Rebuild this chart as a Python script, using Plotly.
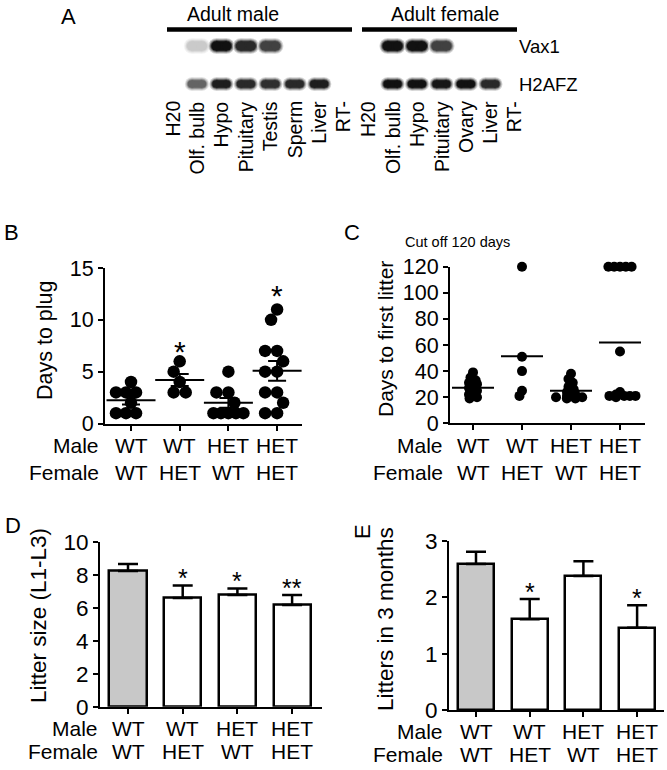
import plotly.graph_objects as go
import numpy as np

W, H = 667, 770
FONT = "Arial, 'Liberation Sans', sans-serif"

# ---------------- Panel A: RT-PCR gel (band intensities 0..1) ----------------
male_lanes = ["H20", "Olf. bulb", "Hypo", "Pituitary", "Testis", "Sperm", "Liver", "RT-"]
female_lanes = ["H20", "Olf. bulb", "Hypo", "Pituitary", "Ovary", "Liver", "RT-"]
gel_genes = ["Vax1", "H2AFZ"]
male_vax1 = [0.0, 0.22, 1.0, 0.9, 0.8, 0.0, 0.0, 0.0]
male_h2afz = [0.0, 0.65, 0.95, 0.9, 0.88, 0.9, 0.95, 0.0]
female_vax1 = [0.0, 1.0, 1.0, 0.8, 0.0, 0.0, 0.0]
female_h2afz = [0.0, 1.0, 1.0, 0.98, 1.0, 0.9, 0.0]
sex_headers = ["Adult male", "Adult female"]

# ---------------- genotype labels ----------------
row_names = ["Male", "Female"]
male_geno = ["WT", "WT", "HET", "HET"]
female_geno = ["WT", "HET", "WT", "HET"]

# ---------------- Panel B: days to plug ----------------
plug_wt_wt = [4, 3, 3, 3, 2, 1, 1, 1]
plug_wt_het = [6, 5, 4, 3, 3]
plug_het_wt = [5, 3, 3, 2, 1, 1, 1, 1, 1]
plug_het_het = [11, 10, 7, 7, 6, 5, 5, 3, 3, 2, 1, 1]
plug_stars = ["", "*", "", "*"]
plug_star_y = [None, 7.6, None, 13.0]

# ---------------- Panel C: days to first litter ----------------
litter_wt_wt = [39, 35, 33, 31, 30, 28, 27, 25, 24, 22, 21, 20, 19]
litter_wt_het = [120, 51, 40, 25, 21]
litter_het_wt = [38, 34, 31, 28, 26, 24, 23, 22, 21, 20, 20, 19, 19]
litter_het_het = [120, 120, 120, 120, 120, 55, 24, 22, 21, 21, 21, 20, 21]
first_stars = ["", "", "", "*"]
first_star_y = [None, None, None, 136]

# ---------------- Panel D: litter size ----------------
size_mean = [8.22, 6.59, 6.77, 6.16]
size_sem = [0.43, 0.76, 0.40, 0.61]
size_stars = ["", "*", "*", "**"]

# ---------------- Panel E: litters in 3 months ----------------
lit3_mean = [2.59, 1.61, 2.38, 1.46]
lit3_sem = [0.22, 0.36, 0.26, 0.40]
lit3_stars = ["", "*", "", "*"]


def fx(px):
    return px / W


def fy(py):
    return 1 - py / H


def swarm(values, ppu, d, rowhalf, colhalf):
    """beeswarm offsets in px"""
    order = sorted(range(len(values)), key=lambda i: -values[i])
    placed = []
    offs = [0.0] * len(values)
    for i in order:
        y = values[i] * ppu
        iv = []
        for (py, px) in placed:
            dy = abs(py - y)
            if dy < d:
                hw = (d * d - dy * dy) ** 0.5
                iv.append((px - hw, px + hw))
        cands = [0.0] + [a for a, b in iv] + [b for a, b in iv]
        cands.sort(key=lambda c: (round(abs(c), 6), c))
        for c in cands:
            if all(not (a + 1e-6 < c < b - 1e-6) for a, b in iv):
                offs[i] = c
                break
        placed.append((y, offs[i]))
    for v in set(values):
        idx = [i for i in range(len(values)) if values[i] == v]
        lim = rowhalf if len(idx) > 1 else colhalf
        m = max(abs(offs[i]) for i in idx)
        if m > lim:
            for i in idx:
                offs[i] *= lim / m
    return offs


fig = go.Figure()
layout_axes = {}
annotations = []
shapes = []

# ======================= Panel A =======================
lane_px0, lane_step = 172.5, 24.45
gx0, gx1 = 150, 535
gy0, gy1 = 30, 100
row_px0, row_step = 46, 38
layout_axes["xaxis"] = dict(domain=[fx(gx0), fx(gx1)],
                            range=[(gx0 - lane_px0) / lane_step, (gx1 - lane_px0) / lane_step],
                            visible=False, anchor="y", automargin=False)
layout_axes["yaxis"] = dict(domain=[fy(gy1), fy(gy0)],
                            range=[(gy1 - row_px0) / row_step, (gy0 - row_px0) / row_step],
                            visible=False, anchor="x", automargin=False)

gel_rows = [(male_vax1, female_vax1, 10.5), (male_h2afz, female_h2afz, 8.5)]
for r, (mrow, frow, bw) in enumerate(gel_rows):
    inten = list(mrow) + list(frow)
    for k, I in enumerate(inten):
        if I <= 0:
            continue
        layers = [(bw + 5, 0.18), (bw + 3, 0.4), (bw + 1, 0.7), (bw - 1, 0.93)]
        for lw, f in layers:
            lvl = int(255 * (1 - f * I))
            c = f"rgb({lvl},{lvl},{lvl})"
            fig.add_trace(go.Scatter(x=[k - 0.22, k + 0.22], y=[r, r], xaxis="x", yaxis="y",
                                     mode="lines+markers", line=dict(color=c, width=lw),
                                     marker=dict(color=c, size=lw, line=dict(width=0)),
                                     hoverinfo="skip", showlegend=False))

all_lanes = male_lanes + female_lanes
for k, name in enumerate(all_lanes):
    annotations.append(dict(x=k, y=fy(99), xref="x", yref="paper", text=name, textangle=-90,
                            xanchor="center", yanchor="top", showarrow=False,
                            font=dict(size=19.5, color="black", family=FONT)))
for r, g in enumerate(gel_genes):
    annotations.append(dict(x=fx(517), y=fy(row_px0 + r * row_step + 1), xref="paper", yref="paper",
                            text=g, xanchor="left", yanchor="middle", showarrow=False,
                            font=dict(size=18.5, color="black", family=FONT)))
for txt, cx in zip(sex_headers, [233, 445]):
    annotations.append(dict(x=fx(cx), y=fy(14), xref="paper", yref="paper", text=txt,
                            xanchor="center", yanchor="middle", showarrow=False,
                            font=dict(size=19.5, color="black", family=FONT)))
for xa, xb in [(167, 352), (362, 517)]:
    shapes.append(dict(type="line", xref="paper", yref="paper", x0=fx(xa), x1=fx(xb),
                       y0=fy(29.5), y1=fy(29.5), line=dict(color="black", width=4.5)))


# ======================= helpers =======================
def cat_axes(n, ax_left, ax_right, cat0, step, ytop, ybot, yrange, yticks, tickfont):
    xa = dict(domain=[fx(ax_left), fx(ax_right)],
              range=[(ax_left - cat0) / step, (ax_right - cat0) / step],
              showline=True, linecolor="black", linewidth=2, ticks="outside", ticklen=5,
              tickwidth=2, tickcolor="black", tickvals=[0, 1, 2, 3], showticklabels=False,
              showgrid=False, zeroline=False, anchor=f"y{n}", automargin=False)
    ya = dict(domain=[fy(ybot), fy(ytop)], range=yrange, showline=True, linecolor="black",
              linewidth=2, ticks="outside", ticklen=5, tickwidth=2, tickcolor="black",
              tickvals=yticks, tickfont=dict(size=tickfont, color="black", family=FONT),
              showgrid=False, zeroline=False, anchor=f"x{n}", automargin=False)
    layout_axes[f"xaxis{n}"] = xa
    layout_axes[f"yaxis{n}"] = ya


def geno_labels(n, row_y, right_px, fsize):
    for r, (rn, labs) in enumerate(zip(row_names, [male_geno, female_geno])):
        annotations.append(dict(x=fx(right_px), y=fy(row_y[r]), xref="paper", yref="paper",
                                text=rn, xanchor="right", yanchor="middle", showarrow=False,
                                font=dict(size=fsize, color="black", family=FONT)))
        for i, lab in enumerate(labs):
            annotations.append(dict(x=i, y=fy(row_y[r]), xref=f"x{n}", yref="paper", text=lab,
                                    xanchor="center", yanchor="middle", showarrow=False,
                                    font=dict(size=fsize, color="black", family=FONT)))


def ytitle(text, cx, cy, fsize):
    annotations.append(dict(x=fx(cx), y=fy(cy), xref="paper", yref="paper", text=text,
                            textangle=-90, xanchor="center", yanchor="middle", showarrow=False,
                            font=dict(size=fsize, color="black", family=FONT)))


def panel_letter(t, cx, cy, angle=0):
    annotations.append(dict(x=fx(cx), y=fy(cy), xref="paper", yref="paper", text=t,
                            textangle=angle, xanchor="center", yanchor="middle", showarrow=False,
                            font=dict(size=22, color="black", family=FONT)))


# ======================= Panel B =======================
B_left, B_right, B_c0, B_step, B_top, B_bot = 105, 302, 131, 48.7, 268, 423.5
cat_axes(2, B_left, B_right, B_c0, B_step, B_top, B_bot, [0, 15], [0, 5, 10, 15], 21.5)
ppu_B = (B_bot - B_top) / 15
plug_groups = [plug_wt_wt, plug_wt_het, plug_het_wt, plug_het_het]
for gi, vals in enumerate(plug_groups):
    offs = swarm(vals, ppu_B, 12.0, 15.0, 15.0)
    fig.add_trace(go.Scatter(x=[gi + o / B_step for o in offs], y=vals, xaxis="x2", yaxis="y2",
                             mode="markers", marker=dict(color="black", size=12.5),
                             cliponaxis=False, hoverinfo="skip", showlegend=False))
means_B = [float(np.mean(v)) for v in plug_groups]
sems_B = [float(np.std(v, ddof=1) / np.sqrt(len(v))) for v in plug_groups]
fig.add_trace(go.Scatter(x=[0, 1, 2, 3], y=means_B, xaxis="x2", yaxis="y2", mode="markers",
                         marker=dict(symbol="line-ew", size=35, color="black",
                                     line=dict(color="black", width=2)),
                         error_y=dict(type="data", array=sems_B, width=9, thickness=2, color="black"),
                         cliponaxis=False, hoverinfo="skip", showlegend=False))
for i, (s, sy) in enumerate(zip(plug_stars, plug_star_y)):
    if s:
        annotations.append(dict(x=i, y=sy, xref="x2", yref="y2", text=s, showarrow=False,
                                xanchor="center", yanchor="middle", yshift=-7,
                                font=dict(size=30, color="black", family=FONT)))
ytitle("Days to plug", 45, 340, 21.5)
geno_labels(2, [445, 472], 101, 21)
panel_letter("B", 11, 232)

# ======================= Panel C =======================
C_left, C_right, C_c0, C_step, C_top, C_bot = 450, 645, 473, 49, 266.7, 423.3
cat_axes(3, C_left, C_right, C_c0, C_step, C_top, C_bot, [0, 120],
         [0, 20, 40, 60, 80, 100, 120], 21.5)
ppu_C = (C_bot - C_top) / 120
first_groups = [litter_wt_wt, litter_wt_het, litter_het_wt, litter_het_het]
for gi, vals in enumerate(first_groups):
    offs = swarm(vals, ppu_C, 5.8, 15.5, 4.0)
    fig.add_trace(go.Scatter(x=[gi + o / C_step for o in offs], y=vals, xaxis="x3", yaxis="y3",
                             mode="markers", marker=dict(color="black", size=10),
                             cliponaxis=False, hoverinfo="skip", showlegend=False))
means_C = [float(np.mean(v)) for v in first_groups]
fig.add_trace(go.Scatter(x=[0, 1, 2, 3], y=means_C, xaxis="x3", yaxis="y3", mode="markers",
                         marker=dict(symbol="line-ew", size=30, color="black",
                                     line=dict(color="black", width=2)),
                         cliponaxis=False, hoverinfo="skip", showlegend=False))
for i, (s, sy) in enumerate(zip(first_stars, first_star_y)):
    if s:
        annotations.append(dict(x=i, y=sy, xref="x3", yref="y3", text=s, showarrow=False,
                                xanchor="center", yanchor="middle", yshift=-7,
                                font=dict(size=30, color="black", family=FONT)))
annotations.append(dict(x=fx(403), y=fy(242), xref="paper", yref="paper", text="Cut off 120 days",
                        xanchor="left", yanchor="middle", showarrow=False,
                        font=dict(size=14.5, color="black", family=FONT)))
ytitle("Days to first litter", 385, 339, 21)
geno_labels(3, [445, 472], 445, 21)
panel_letter("C", 352, 232)

# ======================= Panel D =======================
D_left, D_right, D_c0, D_step, D_top, D_bot = 100, 322, 128, 54.7, 541.7, 706.7
cat_axes(4, D_left, D_right, D_c0, D_step, D_top, D_bot, [0, 10], [0, 2, 4, 6, 8, 10], 22.5)
fig.add_trace(go.Bar(x=[0, 1, 2, 3], y=size_mean, xaxis="x4", yaxis="y4", width=0.68,
                     marker=dict(color=["#c8c8c8", "white", "white", "white"],
                                 line=dict(color="black", width=2.5)),
                     error_y=dict(type="data", symmetric=False, array=size_sem,
                                  arrayminus=[0, 0, 0, 0], width=10, thickness=2.5, color="black"),
                     hoverinfo="skip", showlegend=False))
for i, s in enumerate(size_stars):
    if s:
        annotations.append(dict(x=i, y=size_mean[i] + size_sem[i], xref="x4", yref="y4", text=s,
                                showarrow=False, xanchor="center", yanchor="bottom", yshift=-9,
                                font=dict(size=25, color="black", family=FONT)))
ytitle("Litter size (L1-L3)", 38, 616, 22.5)
geno_labels(4, [728, 751], 100, 21)
panel_letter("D", 13, 525)

# ======================= Panel E =======================
E_left, E_right, E_c0, E_step, E_top, E_bot = 449, 664, 476, 53.7, 541, 710
cat_axes(5, E_left, E_right, E_c0, E_step, E_top, E_bot, [0, 3], [0, 1, 2, 3], 22.5)
fig.add_trace(go.Bar(x=[0, 1, 2, 3], y=lit3_mean, xaxis="x5", yaxis="y5", width=0.67,
                     marker=dict(color=["#c8c8c8", "white", "white", "white"],
                                 line=dict(color="black", width=2.5)),
                     error_y=dict(type="data", symmetric=False, array=lit3_sem,
                                  arrayminus=[0, 0, 0, 0], width=10, thickness=2.5, color="black"),
                     hoverinfo="skip", showlegend=False))
for i, s in enumerate(lit3_stars):
    if s:
        annotations.append(dict(x=i, y=lit3_mean[i] + lit3_sem[i], xref="x5", yref="y5", text=s,
                                showarrow=False, xanchor="center", yanchor="bottom", yshift=-9,
                                font=dict(size=25, color="black", family=FONT)))
ytitle("Litters in 3 months", 385, 619, 22.5)
geno_labels(5, [731, 754], 445, 21)
panel_letter("E", 362, 532, angle=-90)

panel_letter("A", 68, 17)

fig.update_layout(width=W, height=H,
                  margin=dict(l=0, r=0, t=0, b=0, pad=0, autoexpand=False), autosize=False,
                  paper_bgcolor="white", plot_bgcolor="rgba(0,0,0,0)", showlegend=False,
                  font=dict(family=FONT, color="black"), annotations=annotations, shapes=shapes,
                  bargap=0, **layout_axes)
fig.write_html("out.html", config={"displayModeBar": False, "responsive": False},
               post_script="document.body.style.margin='0';document.body.style.padding='0';"
                           "document.documentElement.style.overflow='hidden';")
